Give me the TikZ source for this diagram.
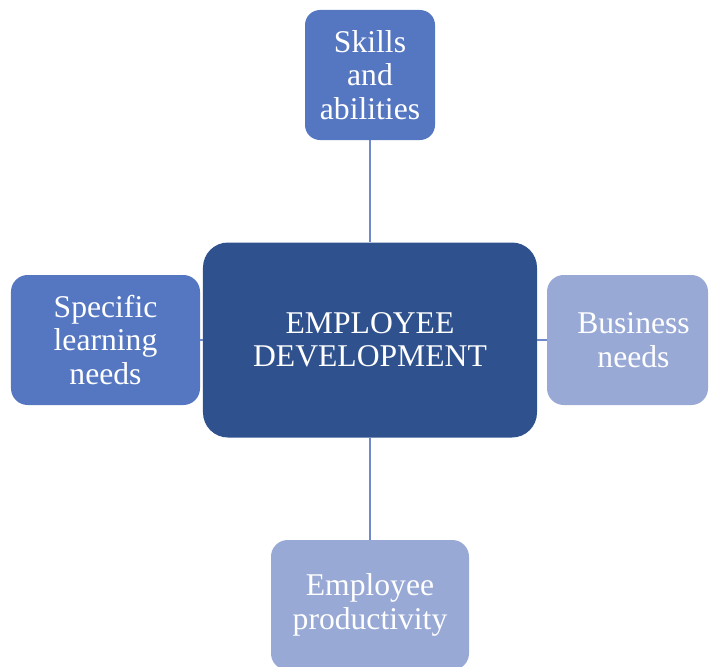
\documentclass[tikz,border=0pt]{standalone}
\usepackage{fontspec}
\setmainfont{Liberation Serif}

\definecolor{midblue}{RGB}{85,119,194}
\definecolor{darkblue}{RGB}{47,82,143}
\definecolor{paleblue}{RGB}{152,169,214}
\definecolor{linkblue}{RGB}{112,137,203}

\begin{document}
\begin{tikzpicture}[x=0.03cm, y=-0.03cm,
    box/.style={rounded corners=0.5cm, text=white, align=center, inner sep=0pt,
      font=\fontsize{27}{28.5}\selectfont},
    hub/.style={box, fill=darkblue, rounded corners=0.75cm,
      minimum width=10.02cm, minimum height=5.85cm},
    link/.style={draw=linkblue, line width=2pt}]
    \useasboundingbox (0,0) rectangle (710,666);

    % Dibuja el nodo central
    \node[hub] (hub) at (370,340) {EMPLOYEE\\DEVELOPMENT};

    % Dibuja las cajas alrededor
    \node[box, fill=midblue, rounded corners=0.45cm, minimum width=3.9cm, minimum height=3.9cm]
        (skills) at (370,75) {Skills\\and\\abilities};
    \node[box, fill=midblue, minimum width=5.67cm, minimum height=3.9cm]
        (learning) at (105.5,340) {Specific\\learning\\needs};
    \node[box, fill=paleblue, minimum width=4.83cm, minimum height=3.9cm]
        (business) at (627.5,340) {\hspace*{0.36cm}Business\\\hspace*{0.36cm}needs};
    \node[box, fill=paleblue, minimum width=5.94cm, minimum height=3.9cm]
        (productivity) at (370,605) {Employee\\productivity};

    % Dibuja las lineas al centro
    \draw[link] (skills) -- (hub);
    \draw[link] (hub) -- (productivity);
    \draw[link] (hub) -- (business);
    \draw[link] (learning) -- (hub);
\end{tikzpicture}
\end{document}
